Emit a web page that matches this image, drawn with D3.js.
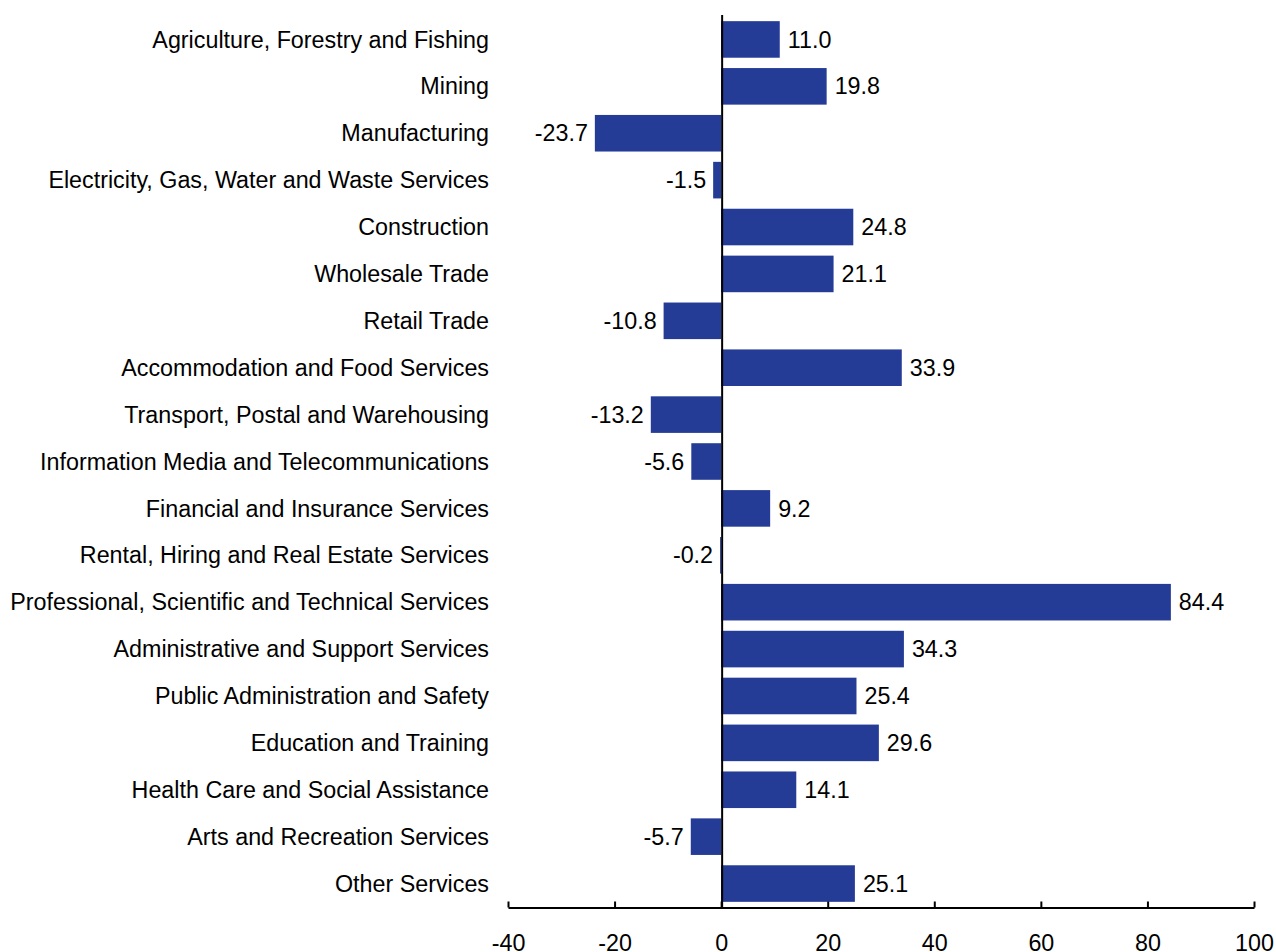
<!DOCTYPE html>
<html>
<head>
<meta charset="utf-8">
<script src="https://cdn.jsdelivr.net/npm/d3@7"></script>
<style>
  body { margin: 0; background: #fff; }
  text { font-family: "Liberation Sans", Arial, sans-serif; fill: #000; }
</style>
</head>
<body>
<script>
const categories = [
  "Agriculture, Forestry and Fishing",
  "Mining",
  "Manufacturing",
  "Electricity, Gas, Water and Waste Services",
  "Construction",
  "Wholesale Trade",
  "Retail Trade",
  "Accommodation and Food Services",
  "Transport, Postal and Warehousing",
  "Information Media and Telecommunications",
  "Financial and Insurance Services",
  "Rental, Hiring and Real Estate Services",
  "Professional, Scientific and Technical Services",
  "Administrative and Support Services",
  "Public Administration and Safety",
  "Education and Training",
  "Health Care and Social Assistance",
  "Arts and Recreation Services",
  "Other Services"
]
const values = [11.0, 19.8, -23.7, -1.5, 24.8, 21.1, -10.8, 33.9, -13.2, -5.6, 9.2, -0.2, 84.4, 34.3, 25.4, 29.6, 14.1, -5.7, 25.1]
const xTicks = [-40, -20, 0, 20, 40, 60, 80, 100]

const data = categories.map((c, i) => ({ name: c, value: values[i] }))
const FONT = "23.3px"
// plain hyphen instead of unicode minus
const fmt1 = v => d3.format(".1f")(v).replace("\u2212", "-")
const fmt0 = v => d3.format("d")(v).replace("\u2212", "-")

const svg = d3.select("body")
              .append("svg")
              .attr("width", 1276)
              .attr("height", 952)

const x = d3.scaleLinear()
            .domain([-40, 100])
            .range([508, 1254])

const y = d3.scaleBand()
            .domain(categories)
            .range([16, 907])
            .paddingInner(0.22)
            .paddingOuter(0.11)

// bars
svg.append("g")
   .selectAll("rect")
   .data(data)
   .enter()
   .append("rect")
   .attr("x", d => x(Math.min(0, d.value)))
   .attr("y", d => y(d.name))
   .attr("width", d => Math.abs(x(d.value) - x(0)))
   .attr("height", y.bandwidth())
   .attr("fill", "#253c97")

// zero line (sits just right of zero like the original)
svg.append("line")
   .attr("x1", x(0) + 1).attr("x2", x(0) + 1)
   .attr("y1", 15).attr("y2", 907.5)
   .attr("stroke", "#000")
   .attr("stroke-width", 2)

// x axis, ticks pointing up
const xAxis = d3.axisTop(x)
                .tickValues(xTicks)
                .tickSize(6)
                .tickSizeOuter(0)
                .tickFormat(fmt0)

const ax = svg.append("g")
              .attr("transform", "translate(0,907.5)")
              .call(xAxis)
ax.select(".domain").attr("stroke", "#000").attr("stroke-width", 2)
ax.selectAll(".tick line").attr("stroke", "#000").attr("stroke-width", 2)
ax.selectAll(".tick text")
  .attr("y", 43.5)
  .attr("dy", 0)
  .style("font-size", FONT)
  .style("font-family", "'Liberation Sans', Arial, sans-serif")
  .attr("fill", "#000")

// category labels
svg.append("g")
   .selectAll("text")
   .data(data)
   .enter()
   .append("text")
   .attr("x", 489)
   .attr("y", d => y(d.name) + y.bandwidth() / 2)
   .attr("dy", "0.35em")
   .attr("text-anchor", "end")
   .style("font-size", FONT)
   .text(d => d.name)

// value labels
svg.append("g")
   .selectAll("text")
   .data(data)
   .enter()
   .append("text")
   .attr("x", d => d.value >= 0 ? x(d.value) + 8 : x(d.value) - 7)
   .attr("y", d => y(d.name) + y.bandwidth() / 2)
   .attr("dy", "0.35em")
   .attr("text-anchor", d => d.value >= 0 ? "start" : "end")
   .style("font-size", FONT)
   .text(d => fmt1(d.value))
</script>
</body>
</html>
